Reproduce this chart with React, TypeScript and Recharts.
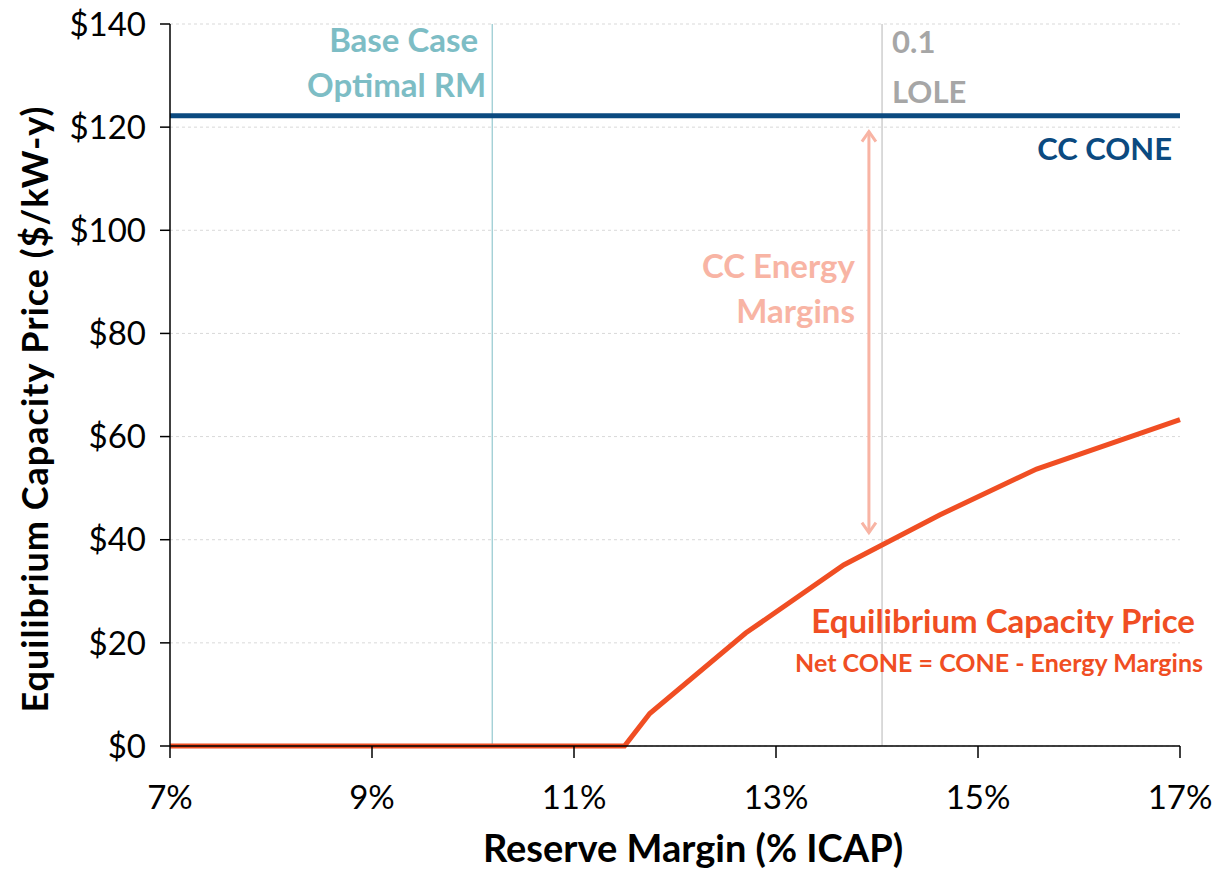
import React from 'react'
import { LineChart, Line, XAxis, YAxis, CartesianGrid, ReferenceLine, ReferenceDot, Label } from 'recharts'

// reserve margin (% ICAP) vs equilibrium capacity price ($/kW-y)
const reserveMargin = [7, 11.5, 11.75, 12.7, 13.67, 14.62, 15.58, 17]
const capacityPrice = [0, 0, 6.3, 21.9, 35.1, 44.8, 53.7, 63.3]

const xTicks = [7, 9, 11, 13, 15, 17]
const yTicks = [0, 20, 40, 60, 80, 100, 120, 140]

const ccCone = 122.2
const baseCaseRM = 10.19
const loleRM = 14.05
const arrowRM = 13.92
const arrowTop = 119.5
const arrowBottom = 41

const baseCaseText = ['Base Case', 'Optimal RM']
const loleText = ['0.1', 'LOLE']
const energyText = ['CC Energy', 'Margins']
const priceText = ['Equilibrium Capacity Price', 'Net CONE = CONE - Energy Margins']

const FONT = 'Lato, "Open Sans", sans-serif'
const RED = '#f04e23'
const BLUE = '#0b4a80'
const TEAL = '#7dbdc5'
const GREY = '#a6a6a6'
const SALMON = '#f8b4a4'

const data = reserveMargin.map((rm, i) => ({ rm, price: capacityPrice[i] }))

function EnergyArrow(props: any) {
  const { x1, y1, x2, y2 } = props
  const x = x1 ?? props.x
  return (
    <g>
      <line x1={x} y1={y1 + 2} x2={x2 ?? x} y2={y2 - 2} stroke={SALMON} strokeWidth={3} />
      <polyline points={`${x - 7},${y1 + 12} ${x},${y1 + 2} ${x + 7},${y1 + 12}`} fill="none" stroke={SALMON} strokeWidth={3} />
      <polyline points={`${x - 7},${y2 - 12} ${x},${y2 - 2} ${x + 7},${y2 - 12}`} fill="none" stroke={SALMON} strokeWidth={3} />
      <text x={x - 14} y={y1 + 148} textAnchor="end" fill={SALMON} fontFamily={FONT} fontWeight={700} fontSize={33}>{energyText[0]}</text>
      <text x={x - 14} y={y1 + 193} textAnchor="end" fill={SALMON} fontFamily={FONT} fontWeight={700} fontSize={33}>{energyText[1]}</text>
    </g>
  )
}

function PriceNote(props: any) {
  const { cx, cy } = props
  return (
    <g>
      <text x={cx + 15} y={cy} textAnchor="end" fill={RED} fontFamily={FONT} fontWeight={700} fontSize={33}>{priceText[0]}</text>
      <text x={cx + 23} y={cy + 39} textAnchor="end" fill={RED} fontFamily={FONT} fontWeight={700} fontSize={25}>{priceText[1]}</text>
    </g>
  )
}

export default function App() {
  return (
    <div style={{ width: 1213, height: 871, background: '#fff' }}>
      <style>{'body { margin: 0; }'}</style>
      <LineChart width={1213} height={871} data={data} margin={{ top: 24, right: 33, bottom: 0, left: 8 }}>
        <CartesianGrid vertical={false} stroke="#d9d9d9" strokeDasharray="3 3" />
        <XAxis
          dataKey="rm" type="number" domain={[7, 17]} ticks={xTicks} tickFormatter={v => `${v}%`}
          height={125} tickSize={12} tickMargin={28}
          stroke="#000" strokeWidth={1.5}
          tick={{ fontSize: 33, fill: '#000', fontFamily: FONT }}
        >
          <Label content={(p: any) => {
            const vb = p.viewBox
            return (
              <text x={vb.x + vb.width / 2 + 18} y={vb.y + vb.height - 9} textAnchor="middle"
                fontFamily={FONT} fontWeight={700} fontSize={38} fill="#000">Reserve Margin (% ICAP)</text>
            )
          }} />
        </XAxis>
        <YAxis
          type="number" domain={[0, 140]} ticks={yTicks} tickFormatter={v => `$${v}`}
          width={162} tickSize={10} tickMargin={14}
          stroke="#000" strokeWidth={1.5}
          tick={{ fontSize: 33, fill: '#000', fontFamily: FONT }}
        >
          <Label content={(p: any) => {
            const vb = p.viewBox
            const cy = vb.y + vb.height / 2 + 24
            return (
              <text x={34} y={cy} transform={`rotate(-90, 34, ${cy})`} textAnchor="middle" dominantBaseline="central"
                fontFamily={FONT} fontWeight={700} fontSize={36} letterSpacing={1} fill="#000">Equilibrium Capacity Price ($/kW-y)</text>
            )
          }} />
        </YAxis>

        <ReferenceLine x={baseCaseRM} stroke={TEAL} strokeWidth={1}
          label={(p: any) => {
            const vb = p.viewBox
            return (
              <g>
                <text x={vb.x - 14} y={vb.y + 28} textAnchor="end" fill={TEAL} fontFamily={FONT} fontWeight={700} fontSize={33}>{baseCaseText[0]}</text>
                <text x={vb.x - 6} y={vb.y + 73} textAnchor="end" fill={TEAL} fontFamily={FONT} fontWeight={700} fontSize={33}>{baseCaseText[1]}</text>
              </g>
            )
          }}
        />
        <ReferenceLine x={loleRM} stroke="#cfcfcf" strokeWidth={1.5}
          label={(p: any) => {
            const vb = p.viewBox
            return (
              <g>
                <text x={vb.x + 10} y={vb.y + 29} textAnchor="start" fill={GREY} fontFamily={FONT} fontWeight={700} fontSize={31}>{loleText[0]}</text>
                <text x={vb.x + 10} y={vb.y + 79} textAnchor="start" fill={GREY} fontFamily={FONT} fontWeight={700} fontSize={31}>{loleText[1]}</text>
              </g>
            )
          }}
        />
        <ReferenceLine y={ccCone} stroke={BLUE} strokeWidth={5}
          label={(p: any) => {
            const vb = p.viewBox
            return (
              <text x={vb.x + vb.width - 8} y={vb.y + 44} textAnchor="end" fill={BLUE} fontFamily={FONT} fontWeight={700} fontSize={31}>CC CONE</text>
            )
          }}
        />
        <ReferenceLine
          segment={[{ x: arrowRM, y: arrowTop }, { x: arrowRM, y: arrowBottom }]}
          shape={(p: any) => <EnergyArrow {...p} />}
        />

        <Line type="linear" dataKey="price" stroke={RED} strokeWidth={5} dot={false} isAnimationActive={false} />

        <ReferenceDot x={17} y={22} r={0} shape={(p: any) => <PriceNote {...p} />} />
      </LineChart>
    </div>
  )
}
